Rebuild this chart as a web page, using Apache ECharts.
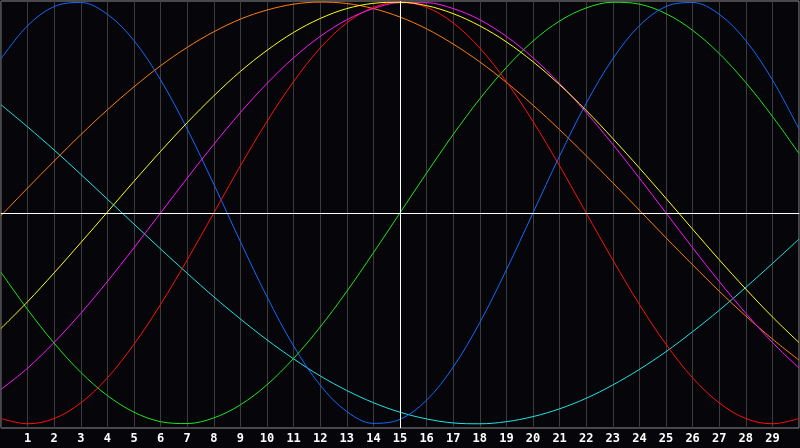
<!DOCTYPE html>
<html>
<head>
<meta charset="utf-8">
<script src="https://cdn.jsdelivr.net/npm/echarts@6/dist/echarts.min.js"></script>
<style>
  html, body { margin: 0; padding: 0; background: #060509; }
  #main { width: 800px; height: 448px; }
</style>
</head>
<body>
<div id="main"></div>
<script>
// days 0..30
var days = [];
for (var d = 0; d <= 30; d++) days.push(d);

// values in percent
var physical = [73.1, 88.8, 97.9, 99.8, 94.2, 81.7, 63.1, 39.8, 13.6, -13.6, -39.8, -63.1, -81.7, -94.2, -99.8, -97.9,
  -88.8, -73.1, -52.0, -27.0, 0, 27.0, 52.0, 73.1, 88.8, 97.9, 99.8, 94.2, 81.7, 63.1, 39.8];
var emotional = [-97.5, -100, -97.5, -90.1, -78.2, -62.3, -43.4, -22.3, 0, 22.3, 43.4, 62.3, 78.2, 90.1, 97.5, 100,
  97.5, 90.1, 78.2, 62.3, 43.4, 22.3, 0, -22.3, -43.4, -62.3, -78.2, -90.1, -97.5, -100, -97.5];
var intellectual = [-28.2, -45.8, -61.8, -75.6, -86.6, -94.5, -99.0, -99.9, -97.2, -91.0, -81.5, -69.0, -54.1, -37.2, -18.9, 0,
  18.9, 37.2, 54.1, 69.0, 81.5, 91.0, 97.2, 99.9, 99.0, 94.5, 86.6, 75.6, 61.8, 45.8, 28.2];
var spiritual = [51.3, 40.8, 29.8, 18.3, 6.5, -5.3, -17.1, -28.6, -39.8, -50.3, -60.2, -69.2, -77.3, -84.2, -90.0, -94.5,
  -97.7, -99.6, -100, -99.0, -96.6, -92.9, -87.9, -81.6, -74.2, -65.8, -56.3, -46.2, -35.3, -24.0, -12.4];
var awareness = [-1.3, 11.8, 24.6, 37.1, 48.9, 59.8, 69.8, 78.5, 85.9, 91.9, 96.2, 99.0, 100, 99.3, 96.9, 92.9,
  87.3, 80.1, 71.6, 61.9, 51.1, 39.5, 27.1, 14.3, 1.3, -11.8, -24.6, -37.1, -48.9, -59.8, -69.8];
var aesthetic = [-54.8, -42.1, -28.4, -14.1, 0.4, 15.0, 29.2, 42.8, 55.5, 67.1, 77.1, 85.6, 92.2, 96.9, 99.4, 99.9,
  98.3, 94.5, 88.7, 81.1, 71.7, 60.8, 48.6, 35.3, 21.3, 6.9, -7.7, -22.2, -36.1, -49.3, -61.5];
var intuitive = [-83.7, -73.6, -61.4, -47.6, -32.5, -16.5, 0, 16.5, 32.5, 47.6, 61.4, 73.6, 83.7, 91.6, 96.9, 99.7,
  99.7, 96.9, 91.6, 83.7, 73.6, 61.4, 47.6, 32.5, 16.5, 0, -16.5, -32.5, -47.6, -61.4, -73.6];

var today = 15;

function pairs(vals) {
  var out = [];
  for (var i = 0; i < days.length; i++) out.push([days[i], vals[i]]);
  return out;
}

function curve(name, vals, color) {
  return {
    name: name,
    type: 'line',
    data: pairs(vals),
    smooth: 0.35,
    symbol: 'none',
    silent: true,
    lineStyle: { color: color, width: 1 }
  };
}

var series = [
  curve('spiritual', spiritual, '#1ee6e6'),
  curve('awareness', awareness, '#ff7f0e'),
  curve('intellectual', intellectual, '#1ee61e'),
  curve('physical', physical, '#1469ff'),
  curve('emotional', emotional, '#ff1010'),
  curve('intuitive', intuitive, '#ff14ff'),
  curve('aesthetic', aesthetic, '#ffff14')
];

// zero line and today line
series.push({
  type: 'line',
  data: [],
  silent: true,
  markLine: {
    silent: true,
    symbol: 'none',
    label: { show: false },
    lineStyle: { color: '#ffffff', width: 1, type: 'solid' },
    data: [{ yAxis: 0 }, { xAxis: today }]
  },
  z: 1
});

var myChart = echarts.init(document.getElementById('main'));
myChart.setOption({
  backgroundColor: '#060509',
  animation: false,
  grid: {
    left: 1, right: 1, top: 1, bottom: 20,
    show: true,
    borderColor: '#8c8c8c',
    borderWidth: 1,
    backgroundColor: 'transparent'
  },
  xAxis: {
    type: 'value',
    min: 0,
    max: 30,
    interval: 1,
    axisLine: { show: true, lineStyle: { color: '#9a9a9a', width: 1 } },
    axisTick: { show: false },
    splitLine: { show: true, lineStyle: { color: '#3c3c3c', width: 1 } },
    axisLabel: {
      showMinLabel: false,
      showMaxLabel: false,
      color: '#ffffff',
      fontFamily: 'DejaVu Sans Mono',
      fontWeight: 'bold',
      fontSize: 12,
      margin: 5
    }
  },
  yAxis: {
    type: 'value',
    min: -102,
    max: 100.5,
    show: false,
    splitLine: { show: false }
  },
  series: series
});
</script>
</body>
</html>
